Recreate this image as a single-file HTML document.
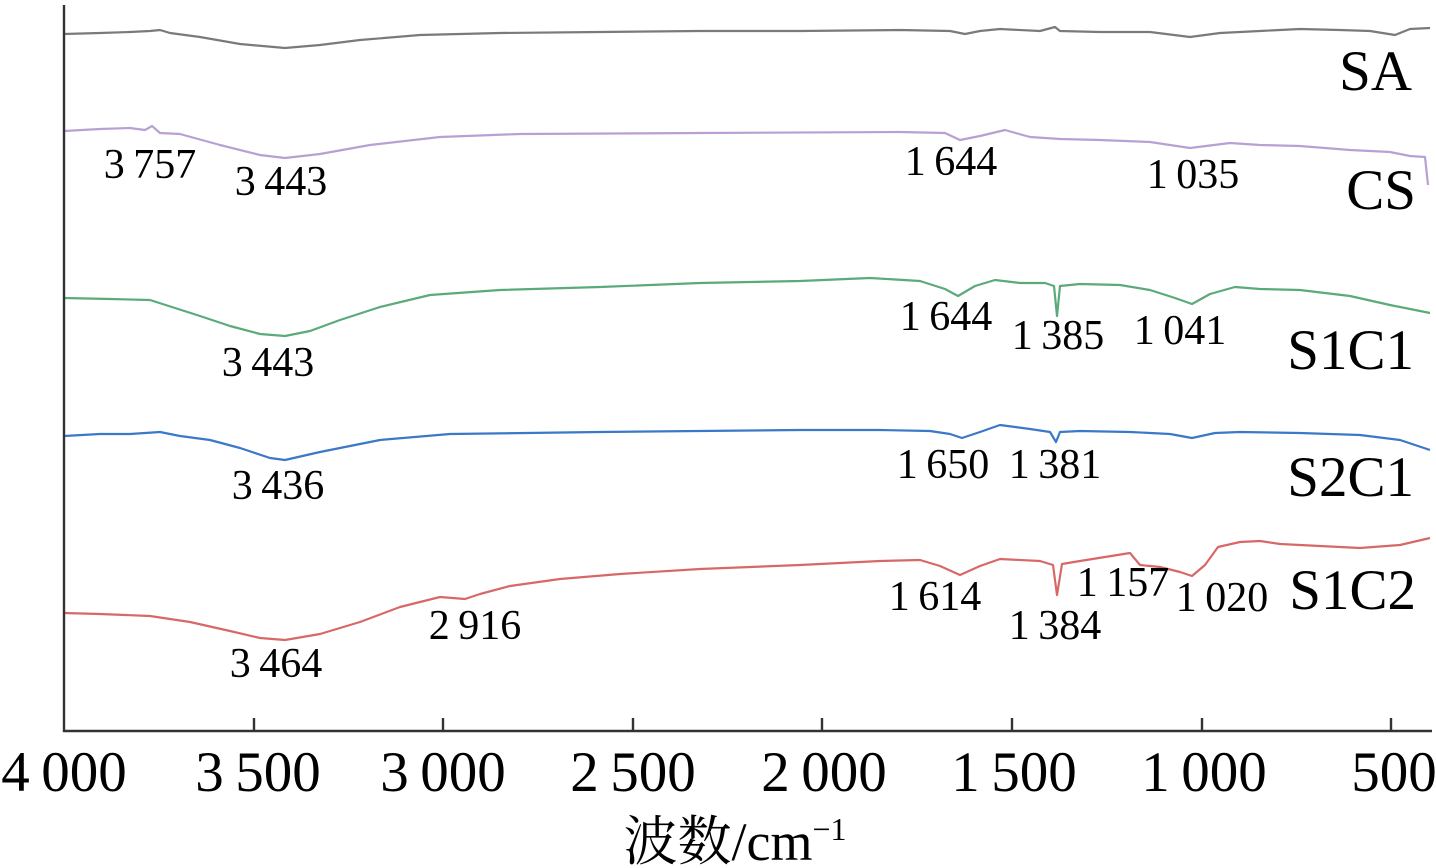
<!DOCTYPE html>
<html><head><meta charset="utf-8"><style>
html,body{margin:0;padding:0;background:#fff;}
svg{display:block;}
text{font-family:"Liberation Serif","Noto Serif CJK SC",serif;fill:#000;}
</style></head><body>
<svg width="1436" height="868" viewBox="0 0 1436 868" xmlns="http://www.w3.org/2000/svg">
<g fill="none" stroke-width="2.2" stroke-linejoin="round">
<polyline stroke="#7a7a7a" points="64,34 100,33 130,32 150,31 160,30 170,33 200,37 240,44 285,48 320,45 360,40 420,35 500,33 600,32 700,31 800,31 900,30 950,31 965,34 980,31 1000,29 1040,31 1055,27 1060,31 1100,32 1150,32 1190,37 1220,33 1260,31 1300,29 1340,30 1370,31 1395,35 1410,29 1430,28"/>
<polyline stroke="#b8a0d4" points="64,131 100,129 130,128 145,130 152,126 160,133 180,134 220,145 260,155 285,158 320,154 370,145 440,137 520,134 700,133 900,132 945,133 960,140 980,136 1005,130 1030,137 1060,139 1100,140 1150,142 1190,148 1230,143 1260,145 1300,146 1350,150 1390,152 1410,156 1425,157 1428,185"/>
<polyline stroke="#5aaa7a" points="64,298 110,299 150,300 175,308 200,316 230,326 260,334 285,336 310,331 340,320 380,307 430,295 500,290 600,287 700,283 800,281 870,278 920,281 945,289 958,296 975,286 995,280 1020,283 1045,283 1054,286 1057,316 1060,286 1080,284 1120,285 1150,290 1175,298 1192,304 1210,294 1235,287 1260,289 1300,290 1350,296 1390,305 1430,313"/>
<polyline stroke="#3a78c8" points="64,436 100,434 130,434 160,432 180,436 210,440 240,448 270,458 285,460 320,452 380,440 450,434 600,432 800,430 880,430 930,431 950,434 962,438 980,432 1000,425 1030,429 1050,432 1056,442 1060,432 1080,431 1130,432 1170,434 1192,438 1215,433 1240,432 1300,433 1360,435 1400,440 1430,450"/>
<polyline stroke="#d86868" points="64,613 100,614 150,616 190,622 230,631 260,638 285,640 320,634 360,622 400,607 440,597 465,599 480,594 510,586 560,579 620,574 700,569 800,565 880,561 920,560 940,566 960,575 980,566 1000,559 1040,561 1053,565 1057,595 1062,564 1080,561 1130,553 1140,565 1160,567 1180,572 1192,576 1205,565 1218,547 1240,542 1260,541 1280,544 1320,546 1360,548 1400,545 1430,538"/>
</g>
<g stroke="#333" stroke-width="2.4" fill="none">
<line x1="64" y1="5" x2="64" y2="732"/>
<line x1="63" y1="731" x2="1432" y2="731"/>
<line x1="254" y1="718" x2="254" y2="731"/>
<line x1="443" y1="718" x2="443" y2="731"/>
<line x1="633" y1="718" x2="633" y2="731"/>
<line x1="822" y1="718" x2="822" y2="731"/>
<line x1="1012" y1="718" x2="1012" y2="731"/>
<line x1="1202" y1="718" x2="1202" y2="731"/>
<line x1="1391" y1="718" x2="1391" y2="731"/>
</g>
<g font-size="57" text-anchor="middle">
<text x="64" y="791">4&#8201;000</text>
<text x="258" y="791">3&#8201;500</text>
<text x="443" y="791">3&#8201;000</text>
<text x="633" y="791">2&#8201;500</text>
<text x="824" y="791">2&#8201;000</text>
<text x="1014" y="791">1&#8201;500</text>
<text x="1204" y="791">1&#8201;000</text>
<text x="1394" y="791">500</text>
</g>
<text x="735" y="860" font-size="54" text-anchor="middle">波数/cm<tspan font-size="32" dy="-20">−1</tspan></text>
<g font-size="57" text-anchor="end">
<text x="1412" y="90">SA</text>
<text x="1416" y="209">CS</text>
<text x="1414" y="369">S1C1</text>
<text x="1414" y="496">S2C1</text>
<text x="1416" y="609">S1C2</text>
</g>
<g font-size="42" text-anchor="middle">
<text x="150" y="178">3&#8201;757</text>
<text x="281" y="195">3&#8201;443</text>
<text x="951" y="175">1&#8201;644</text>
<text x="1193" y="188">1&#8201;035</text>
<text x="268" y="376">3&#8201;443</text>
<text x="946" y="330">1&#8201;644</text>
<text x="1058" y="349">1&#8201;385</text>
<text x="1180" y="344">1&#8201;041</text>
<text x="278" y="499">3&#8201;436</text>
<text x="943" y="478">1&#8201;650</text>
<text x="1055" y="478">1&#8201;381</text>
<text x="935" y="610">1&#8201;614</text>
<text x="1055" y="639">1&#8201;384</text>
<text x="1123" y="596">1&#8201;157</text>
<text x="1222" y="611">1&#8201;020</text>
<text x="475" y="639">2&#8201;916</text>
<text x="276" y="677">3&#8201;464</text>
</g>
</svg>
</body></html>
